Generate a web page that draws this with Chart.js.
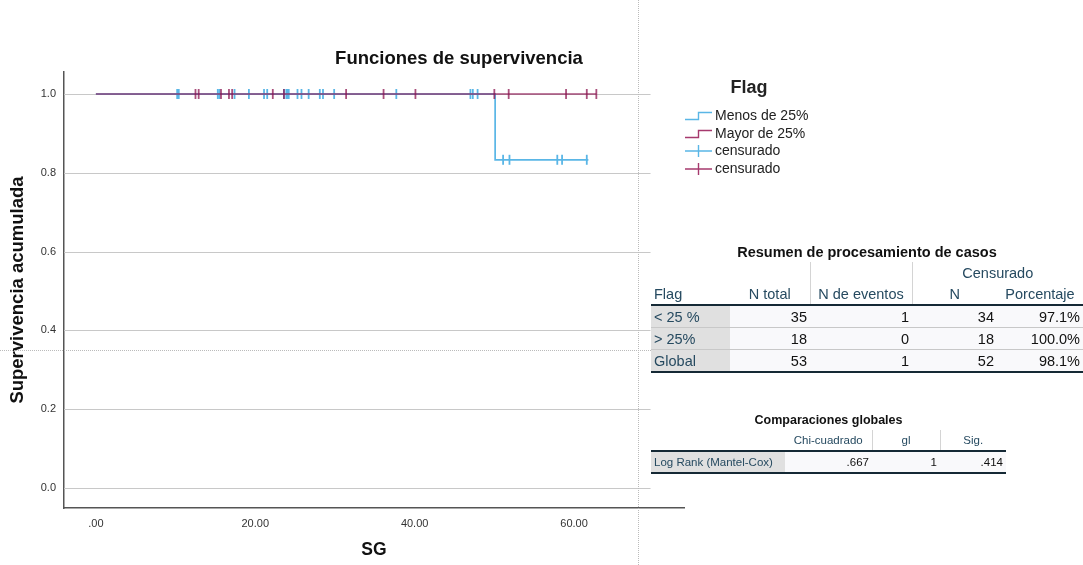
<!DOCTYPE html>
<html>
<head>
<meta charset="utf-8">
<script src="https://cdn.jsdelivr.net/npm/chart.js@4.4.0/dist/chart.umd.min.js"></script>
<style>
  body { margin: 0; background: #fff; font-family: "Liberation Sans", Arial, sans-serif; }
  #wrap { position: relative; width: 1083px; height: 565px; overflow: hidden; }
  #myChart { position: absolute; left: 0; top: 0; }
  .abs { position: absolute; }
  #title { left: 259px; width: 400px; top: 47px; text-align: center; font-weight: bold; font-size: 18.5px; color: #111; }
  #legend { left: 684px; top: 77px; width: 140px; font-size: 14px; color: #222; }
  #legend .hd { font-weight: bold; font-size: 18px; text-align: center; width: 130px; margin-bottom: 9px; }
  #legend .it { height: 17.7px; line-height: 17.7px; display: flex; align-items: center; }
  #legend svg { margin-right: 2px; }
  .vdash { left: 638px; top: 0; height: 565px; border-left: 1px dotted #bbb; }
  .hdash { left: 0; top: 350px; width: 651px; border-top: 1px dotted #bbb; }
  table { border-collapse: collapse; position: absolute; table-layout: fixed; }
  td { padding: 0 3px; white-space: nowrap; overflow: hidden; }
  .cap { font-weight: bold; color: #111; text-align: center; }
  .h { color: #264a60; text-align: center; }
  .lab { color: #264a60; background: #e0e0e0; text-align: left; }
  .num { text-align: right; color: #111; background: #f9f9fb; }
  #t1 { left: 651px; top: 242px; font-size: 14.5px; }
  #t1 td { height: 21px; }
  #t2 { left: 651px; top: 409px; font-size: 11.5px; }
  #t2 td { height: 19px; }
  #t2 tbody td { height: 20px; }
  .hline td { border-bottom: 2px solid #152935; }
  .rowsep td { border-bottom: 1px solid #c8c8c8; }
  .bot td { border-bottom: 2px solid #152935; }
  .vl { border-left: 1px solid #d4d4d4; }
</style>
</head>
<body>
<div id="wrap">
  <canvas id="myChart" width="1083" height="565"></canvas>
  <div class="abs vdash"></div>
  <div class="abs hdash"></div>
  <div class="abs" id="title">Funciones de supervivencia</div>
  <div class="abs" id="legend"></div>

  <table id="t1">
    <colgroup><col style="width:79px"><col style="width:80px"><col style="width:102px"><col style="width:85px"><col style="width:86px"></colgroup>
    <tr><td colspan="5" class="cap" style="height:20px">Resumen de procesamiento de casos</td></tr>
    <tr><td></td><td></td><td class="vl"></td><td colspan="2" class="h vl">Censurado</td></tr>
    <tr class="hline"><td class="h" style="text-align:left">Flag</td><td class="h">N total</td><td class="h vl">N de eventos</td><td class="h vl">N</td><td class="h">Porcentaje</td></tr>
    <tbody id="t1body"></tbody>
  </table>

  <table id="t2">
    <colgroup><col style="width:134px"><col style="width:87px"><col style="width:68px"><col style="width:66px"></colgroup>
    <tr><td colspan="4" class="cap" style="font-size:12.5px;height:21px">Comparaciones globales</td></tr>
    <tr class="hline"><td></td><td class="h">Chi-cuadrado</td><td class="h vl">gl</td><td class="h vl">Sig.</td></tr>
    <tbody id="t2body"></tbody>
  </table>
</div>

<script>
// curva de supervivencia (Kaplan-Meier) por grupo
var groups = ['Menos de 25%', 'Mayor de 25%'];
var colors = ['#5ab6e6', 'rgba(140,20,80,0.75)'];
var legendColors = ['#5ab6e6', '#a63a6e'];

var menosStepT = [0, 50.1, 61.8];
var menosStepS = [1, 0.833, 0.833];
var mayorStepT = [0, 62.8];
var mayorStepS = [1, 1];

// tiempos censurados
var menosCens = [10.2, 10.4, 15.3, 15.5, 17.4, 19.2, 21.1, 21.5, 23.6, 23.9, 24.0, 24.2, 25.3, 25.8,
                 26.7, 28.1, 28.5, 29.9, 37.7, 47.0, 47.3, 47.9, 51.1, 51.9, 57.9, 58.5, 61.6];
var mayorCens = [12.5, 12.9, 15.7, 16.7, 17.1, 22.2, 23.6, 31.4, 36.1, 40.1, 50.0, 51.8, 59.0, 61.6, 62.8];

var xTicks = [0, 20, 40, 60];
var yTicks = [0, 0.2, 0.4, 0.6, 0.8, 1.0];

// tablas
var resumenRows = [
  ['< 25 %', '35', '1', '34', '97.1%'],
  ['> 25%', '18', '0', '18', '100.0%'],
  ['Global', '53', '1', '52', '98.1%']
];
var compRows = [['Log Rank (Mantel-Cox)', '.667', '1', '.414']];

function survAt(ts, ss, t) {
  var s = ss[0];
  for (var i = 0; i < ts.length; i++) { if (ts[i] <= t) s = ss[i]; }
  return s;
}
function steps(ts, ss) { return ts.map(function (t, i) { return { x: t, y: ss[i] }; }); }
function cens(list, ts, ss) { return list.map(function (t) { return { x: t, y: survAt(ts, ss, t) }; }); }

var gridLines = {
  id: 'gridLines',
  beforeDatasetsDraw: function (chart) {
    var c = chart.ctx, xs = chart.scales.x, ys = chart.scales.y;
    c.save();
    c.strokeStyle = '#c8c8c8';
    c.lineWidth = 1.2;
    yTicks.forEach(function (v) {
      var py = Math.round(ys.getPixelForValue(v)) + 0.5;
      c.beginPath();
      c.moveTo(chart.chartArea.left, py);
      c.lineTo(xs.getPixelForValue(69.6), py);
      c.stroke();
    });
    c.restore();
  }
};

var ctx = document.getElementById('myChart').getContext('2d');
var myChart = new Chart(ctx, {
  type: 'line',
  data: {
    datasets: [
      { label: groups[0], order: 3, data: steps(menosStepT, menosStepS), stepped: true, borderColor: colors[0], borderWidth: 1.7, pointRadius: 0, fill: false },
      { label: 'censurado', order: 2, type: 'scatter', data: cens(menosCens, menosStepT, menosStepS), pointStyle: 'line', rotation: 90, radius: 5, borderColor: colors[0], borderWidth: 1.8 },
      { label: groups[1], order: 1, data: steps(mayorStepT, mayorStepS), stepped: true, borderColor: colors[1], borderWidth: 1.7, pointRadius: 0, fill: false },
      { label: 'censurado', order: 0, type: 'scatter', data: cens(mayorCens, mayorStepT, mayorStepS), pointStyle: 'line', rotation: 90, radius: 5, borderColor: colors[1], borderWidth: 1.8 }
    ]
  },
  plugins: [gridLines],
  options: {
    responsive: false,
    animation: false,
    layout: { padding: { top: 72, right: 399, left: 0, bottom: 0 } },
    plugins: { legend: { display: false }, tooltip: { enabled: false } },
    scales: {
      x: {
        type: 'linear', min: -4, max: 73.8,
        afterBuildTicks: function (s) { s.ticks = xTicks.map(function (v) { return { value: v }; }); },
        afterFit: function (s) { s.height = 57; },
        ticks: { padding: 9, color: '#333', font: { family: 'Liberation Sans', size: 11 },
                 callback: function (v) { return v === 0 ? '.00' : v.toFixed(2); } },
        grid: { display: true, color: 'transparent', drawTicks: false },
        border: { display: true, color: '#555', width: 1.5 },
        title: { display: true, text: 'SG', color: '#111', font: { family: 'Liberation Sans', size: 17.5, weight: 'bold' }, padding: { top: 0, bottom: 4 } }
      },
      y: {
        type: 'linear', min: -0.0508, max: 1.0558,
        afterBuildTicks: function (s) { s.ticks = yTicks.map(function (v) { return { value: v }; }); },
        afterFit: function (s) { s.width = 64; },
        ticks: { padding: 8, color: '#333', font: { family: 'Liberation Sans', size: 11 },
                 callback: function (v) { return v.toFixed(1); } },
        grid: { display: true, color: 'transparent', drawTicks: false },
        border: { display: true, color: '#555', width: 1.5 },
        title: { display: true, text: 'Supervivencia acumulada', color: '#111', font: { family: 'Liberation Sans', size: 18.5, weight: 'bold' }, padding: { top: 7, bottom: 0 } }
      }
    }
  }
});

// leyenda
var lg = document.getElementById('legend');
var html = '<div class="hd">Flag</div>';
groups.forEach(function (g, i) {
  html += '<div class="it"><svg width="29" height="14"><path d="M1 10.5 H14.5 V3.5 H28" stroke="' + legendColors[i] + '" stroke-width="1.4" fill="none"/></svg>' + g + '</div>';
});
groups.forEach(function (g, i) {
  html += '<div class="it"><svg width="29" height="14"><path d="M1 7 H28 M14.5 1 V13" stroke="' + legendColors[i] + '" stroke-width="1.4" fill="none"/></svg>censurado</div>';
});
lg.innerHTML = html;

// cuerpos de tablas
var b1 = document.getElementById('t1body');
resumenRows.forEach(function (r, i) {
  var cls = i === resumenRows.length - 1 ? 'bot' : 'rowsep';
  b1.innerHTML += '<tr class="' + cls + '"><td class="lab">' + r[0] + '</td>' +
    r.slice(1).map(function (c) { return '<td class="num">' + c + '</td>'; }).join('') + '</tr>';
});
var b2 = document.getElementById('t2body');
compRows.forEach(function (r) {
  b2.innerHTML += '<tr class="bot"><td class="lab">' + r[0] + '</td>' +
    r.slice(1).map(function (c) { return '<td class="num">' + c + '</td>'; }).join('') + '</tr>';
});
</script>
</body>
</html>
